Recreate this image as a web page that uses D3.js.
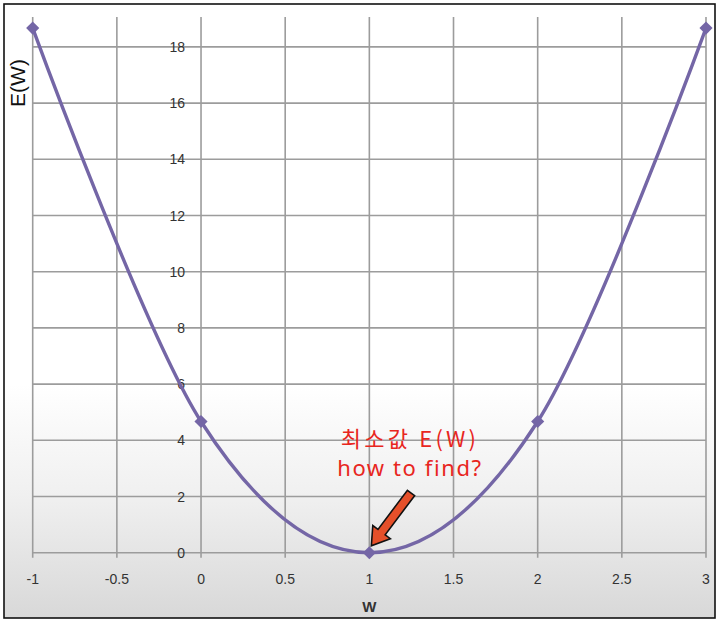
<!DOCTYPE html>
<html>
<head>
<meta charset="utf-8">
<script src="https://cdn.jsdelivr.net/npm/d3@7"></script>
<style>
html,body{margin:0;padding:0;background:#fff;}
svg{display:block;}
</style>
</head>
<body>
<svg id="chart" width="719" height="622"></svg>
<script>
const wValues = [-1, 0, 1, 2, 3];
const eValues = [18.67, 4.67, 0, 4.67, 18.67];
const xTicks = [-1, -0.5, 0, 0.5, 1, 1.5, 2, 2.5, 3];
const yTicks = [0, 2, 4, 6, 8, 10, 12, 14, 16, 18];
const annotationLines = ["최소값 E(W)", "how to find?"];

const svg = d3.select("#chart");
const defs = svg.append("defs");
const grad = defs.append("linearGradient").attr("id","bg").attr("x1",0).attr("y1",0).attr("x2",0).attr("y2",1);
grad.append("stop").attr("offset","0%").attr("stop-color","#ffffff");
grad.append("stop").attr("offset","62%").attr("stop-color","#ffffff");
grad.append("stop").attr("offset","80%").attr("stop-color","#f0f0f0");
grad.append("stop").attr("offset","100%").attr("stop-color","#d8d8d8");

svg.append("rect").attr("x",4).attr("y",4).attr("width",711).attr("height",614)
  .attr("fill","url(#bg)").attr("stroke","#111").attr("stroke-width",1.6);

const x = d3.scaleLinear().domain([-1, 3]).range([32.7, 706]);
const y = d3.scaleLinear().domain([0, 18]).range([552.7, 46.9]);
const yTop = y(19.06);
const grid = "#9c9c9c";

const g = svg.append("g");
g.selectAll("line.v").data(xTicks).join("line")
  .attr("x1", d=>x(d)).attr("x2", d=>x(d))
  .attr("y1", yTop).attr("y2", y(0)+5)
  .attr("stroke", grid).attr("stroke-width", 1.6);
g.selectAll("line.h").data(yTicks).join("line")
  .attr("x1", x(-1)).attr("x2", x(3))
  .attr("y1", d=>y(d)).attr("y2", d=>y(d))
  .attr("stroke", grid).attr("stroke-width", 1.6);

g.selectAll("text.yl").data(yTicks).join("text")
  .attr("x", x(0)-16).attr("y", d=>y(d)+5)
  .attr("text-anchor","end")
  .attr("font-family","'Liberation Sans', Arial, sans-serif")
  .attr("font-size",14).attr("fill","#333")
  .text(d=>d);

g.selectAll("text.xl").data(xTicks).join("text")
  .attr("x", d=>x(d)).attr("y", 584)
  .attr("text-anchor","middle")
  .attr("font-family","'Liberation Sans', Arial, sans-serif")
  .attr("font-size",14).attr("fill","#333")
  .text(d=>d);

svg.append("text").attr("x", x(1)).attr("y", 612)
  .attr("text-anchor","middle")
  .attr("font-family","'Liberation Sans', Arial, sans-serif")
  .attr("font-size",15).attr("font-weight","bold").attr("fill","#333")
  .text("W");
svg.append("text").attr("transform","translate(25,83) rotate(-90)")
  .attr("text-anchor","middle")
  .attr("font-family","'Liberation Sans', Arial, sans-serif")
  .attr("font-size",21).attr("fill","#111")
  .text("E(W)");

const pts = wValues.map((w,i)=>[w, eValues[i]]);
const line = d3.line().x(d=>x(d[0])).y(d=>y(d[1])).curve(d3.curveCardinal.tension(0));
svg.append("path").attr("d", line(pts))
  .attr("fill","none").attr("stroke","#7466a6").attr("stroke-width",3.4);

const sym = d3.symbol().type(d3.symbolDiamond2).size(110);
svg.selectAll("path.m").data(pts).join("path")
  .attr("transform", d=>`translate(${x(d[0])},${y(d[1])})`)
  .attr("d", sym).attr("fill","#7466a6");

svg.selectAll("text.ann").data(annotationLines).join("text")
  .attr("x", 410).attr("y", (d,i)=>447 + i*29)
  .attr("text-anchor","middle")
  .attr("font-family",(d,i)=> i===0 ? "'Noto Sans CJK KR', 'Noto Sans', sans-serif" : "'Noto Sans', sans-serif")
  .attr("font-size",22).attr("fill","#e8261e")
  .attr("letter-spacing",(d,i)=> i===0 ? "3.2px" : "1.6px")
  .text(d=>d);

(function(){
  const tx = x(1)+2, ty = y(0)-7;
  const sx = 411, sy = 493;
  const ang = Math.atan2(ty-sy, tx-sx);
  const len = Math.hypot(tx-sx, ty-sy);
  const shaftW = 9, headW = 22, headL = 17;
  const shape = [
    [0,-shaftW/2],[len-headL,-shaftW/2],[len-headL,-headW/2],[len,0],
    [len-headL,headW/2],[len-headL,shaftW/2],[0,shaftW/2]
  ];
  svg.append("path")
    .attr("d", "M" + shape.map(p=>p.join(",")).join("L") + "Z")
    .attr("transform", `translate(${sx},${sy}) rotate(${ang*180/Math.PI})`)
    .attr("fill","#e5502a").attr("stroke","#111").attr("stroke-width",1.6)
    .attr("stroke-linejoin","miter");
})();
</script>
</body>
</html>
